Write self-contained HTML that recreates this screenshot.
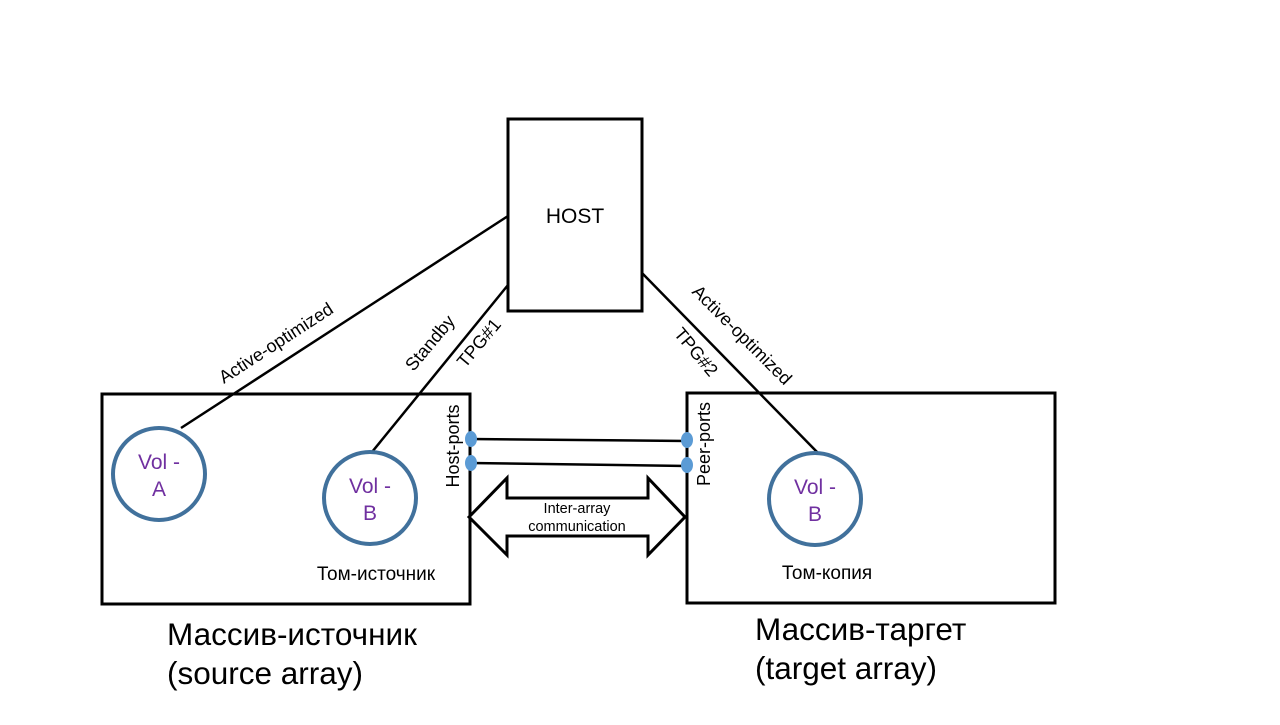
<!DOCTYPE html>
<html><head><meta charset="utf-8"><style>html,body{margin:0;padding:0;background:#fff}</style></head><body>
<svg width="1280" height="720" viewBox="0 0 1280 720" xmlns="http://www.w3.org/2000/svg" font-family="Liberation Sans, sans-serif">
<rect x="0" y="0" width="1280" height="720" fill="#fff"/>
<g fill="none" stroke="#000" stroke-width="3">
<rect x="508" y="119" width="134" height="192"/>
<rect x="102" y="394" width="368" height="210"/>
<rect x="687" y="393" width="368" height="210"/>
<line x1="508" y1="216" x2="181" y2="428" stroke-width="2.5"/>
<line x1="508" y1="285" x2="372" y2="452" stroke-width="2.5"/>
<line x1="642" y1="273" x2="818" y2="453" stroke-width="2.5"/>
<line x1="470" y1="439" x2="687" y2="441" stroke-width="2.5"/>
<line x1="470" y1="463" x2="687" y2="466" stroke-width="2.5"/>
<polygon points="469,517 507,478 507,498 648,498 648,478 685,517 648,555 648,536 507,536 507,555" fill="#fff"/>
</g>
<g fill="#fff" stroke="#41719c" stroke-width="4">
<circle cx="159" cy="474" r="46"/>
<circle cx="370" cy="498" r="46"/>
<circle cx="815" cy="499" r="46"/>
</g>
<g fill="#5b9bd5">
<ellipse cx="471" cy="439" rx="6" ry="8"/>
<ellipse cx="471" cy="463" rx="6" ry="8"/>
<ellipse cx="687" cy="440" rx="6" ry="8"/>
<ellipse cx="687" cy="465" rx="6" ry="8"/>
</g>
<g fill="#7030a0" font-size="21" text-anchor="middle">
<text x="159" y="469">Vol -</text><text x="159" y="496">A</text>
<text x="370" y="493">Vol -</text><text x="370" y="520">B</text>
<text x="815" y="494">Vol -</text><text x="815" y="521">B</text>
</g>
<g fill="#000" text-anchor="middle">
<text x="575" y="223" font-size="21">HOST</text>
<text x="276" y="349" font-size="18" transform="rotate(-33 276 343)">Active-optimized</text>
<text x="430" y="349" font-size="18" transform="rotate(-50 430 343)">Standby</text>
<text x="479" y="349" font-size="18" transform="rotate(-50 479 343)">TPG#1</text>
<text x="696" y="358" font-size="18" transform="rotate(50 696 352)">TPG#2</text>
<text x="742" y="341" font-size="18" transform="rotate(45 742 335)">Active-optimized</text>
<text x="453" y="452" font-size="18" transform="rotate(-90 453 446)">Host-ports</text>
<text x="704" y="450" font-size="18" transform="rotate(-90 704 444)">Peer-ports</text>
<text x="577" y="513" font-size="14.5">Inter-array</text>
<text x="577" y="531" font-size="14.5">communication</text>
<text x="376" y="580" font-size="19">Том-источник</text>
<text x="827" y="579" font-size="19">Том-копия</text>
</g>
<g fill="#000" font-size="31.5">
<text x="167" y="645">Массив-источник</text>
<text x="167" y="684">(source array)</text>
<text x="755" y="640">Массив-таргет</text>
<text x="755" y="679">(target array)</text>
</g>
</svg>
</body></html>
